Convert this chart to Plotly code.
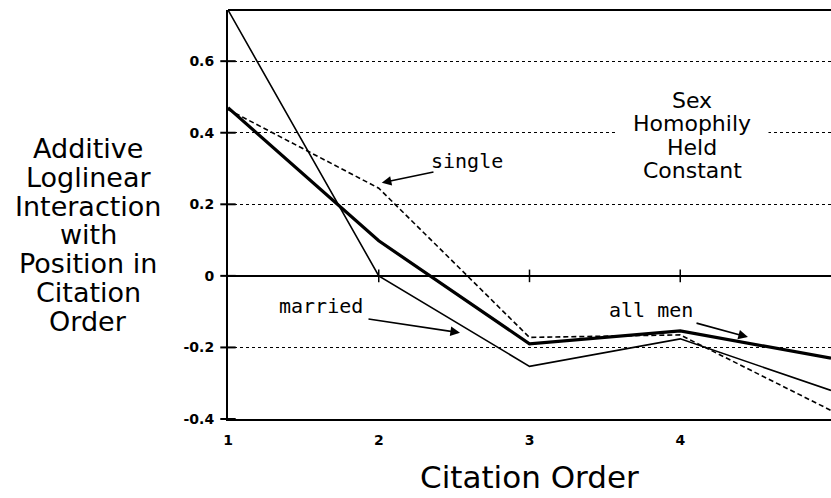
import plotly.graph_objects as go

citation_order = [1, 2, 3, 4, 5]
all_men = [0.47, 0.098, -0.19, -0.154, -0.23]
married = [0.743, 0.0, -0.253, -0.176, -0.32]
single = [0.465, 0.245, -0.172, -0.165, -0.376]

y_tick_vals = [-0.4, -0.2, 0, 0.2, 0.4, 0.6]
y_tick_text = ["-0.4", "-0.2", "0", "0.2", "0.4", "0.6"]
x_tick_text = ["1", "2", "3", "4", "5"]

y_label_lines = ["Additive", "Loglinear", "Interaction", "with", "Position in", "Citation", "Order"]
note_lines = ["Sex", "Homophily", "Held", "Constant"]

fig = go.Figure()

fig.add_trace(go.Scatter(x=citation_order, y=married, mode="lines",
                         line=dict(color="black", width=1.6), name="married",
                         cliponaxis=False))
fig.add_trace(go.Scatter(x=citation_order, y=single, mode="lines",
                         line=dict(color="black", width=1.6, dash="5px,3px"), name="single",
                         cliponaxis=False))
fig.add_trace(go.Scatter(x=citation_order, y=all_men, mode="lines",
                         line=dict(color="black", width=3.2), name="all men",
                         cliponaxis=False))

# cross tick marks on the y axis
fig.add_trace(go.Scatter(x=[citation_order[0]] * len(y_tick_vals), y=y_tick_vals, mode="markers",
                         marker=dict(symbol="line-ew", size=11, line=dict(color="black", width=2)),
                         cliponaxis=False, hoverinfo="skip"))
# tick marks on the zero line
fig.add_trace(go.Scatter(x=citation_order[1:4], y=[0] * 3, mode="markers",
                         marker=dict(symbol="line-ns", size=9, line=dict(color="black", width=1.5)),
                         cliponaxis=False, hoverinfo="skip"))

fig.update_layout(
    width=831, height=498,
    margin=dict(l=228, r=0, t=10, b=79),
    paper_bgcolor="white", plot_bgcolor="white",
    showlegend=False,
    font=dict(family="DejaVu Sans", color="black"),
)

fig.update_xaxes(
    range=[1, 5], tickvals=citation_order, ticktext=x_tick_text,
    showgrid=False, zeroline=False, automargin=False,
    showline=True, linecolor="black", linewidth=2,
    ticks="", ticklabelstandoff=7,
    tickfont=dict(family="DejaVu Sans", size=14, color="black", weight="bold"),
)
fig.update_yaxes(
    range=[-0.4, 0.743], tickvals=y_tick_vals, ticktext=y_tick_text,
    showgrid=True, gridcolor="black", griddash="dot", gridwidth=1,
    zeroline=True, zerolinecolor="black", zerolinewidth=1.5,
    showline=True, linecolor="black", linewidth=2, automargin=False,
    ticks="", ticklabelstandoff=9,
    tickfont=dict(family="DejaVu Sans", size=14, color="black", weight="bold"),
)

# top border
fig.add_shape(type="line", xref="paper", yref="paper", x0=0, x1=1, y0=1, y1=1,
              line=dict(color="black", width=2))

# y-axis label (stacked lines)
n = len(y_label_lines)
for i, t in enumerate(y_label_lines):
    fig.add_annotation(text=t, xref="paper", yref="paper", x=-0.232, y=0.45,
                       showarrow=False, xanchor="center", yanchor="middle",
                       yshift=-(i - (n - 1) / 2) * 28.8,
                       font=dict(family="DejaVu Sans", size=27, color="black"))

# note block
m = len(note_lines)
fig.add_annotation(text="", x=4.078, y=0.392, showarrow=False,
                   width=150, height=96, bgcolor="white")
for i, t in enumerate(note_lines):
    fig.add_annotation(text=t, x=4.078, y=0.392, showarrow=False,
                       xanchor="center", yanchor="middle",
                       yshift=-(i - (m - 1) / 2) * 23.3,
                       font=dict(family="DejaVu Sans", size=22, color="black"))

# x-axis title
fig.add_annotation(text="Citation Order", xref="paper", yref="paper", x=0.5, y=-0.142,
                   showarrow=False, xanchor="center", yanchor="middle",
                   font=dict(family="DejaVu Sans", size=31, color="black"))

mono = dict(family="DejaVu Sans Mono", size=20, color="black")
# series labels
fig.add_annotation(text="single", x=2.585, y=0.322, showarrow=False, font=mono)
fig.add_annotation(text="married", x=1.617, y=-0.084, showarrow=False, font=mono)
fig.add_annotation(text="all men", x=3.806, y=-0.095, showarrow=False, font=mono)

# arrows
arrow = dict(showarrow=True, arrowhead=2, arrowsize=1.2, arrowwidth=1.6, arrowcolor="black",
             axref="x", ayref="y", text="", standoff=0, startstandoff=0)
fig.add_annotation(x=2.02, y=0.26, ax=2.373, ay=0.291, **arrow)
fig.add_annotation(x=2.539, y=-0.159, ax=1.922, ay=-0.120, **arrow)
fig.add_annotation(x=4.449, y=-0.171, ax=4.098, ay=-0.131, **arrow)

fig.write_html("out.html", config={"displayModeBar": False},
               post_script="document.body.style.margin='0';document.body.style.overflow='hidden';")
